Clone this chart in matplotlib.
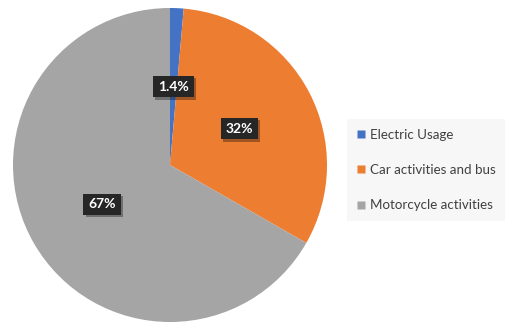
import matplotlib
matplotlib.use('Agg')
import matplotlib.pyplot as plt
from matplotlib.lines import Line2D
import matplotlib.patheffects as pe
import numpy as np

# ------------------------------------------------------ #
# Data
# ------------------------------------------------------ #
categories = ['Electric Usage', 'Car activities and bus', 'Motorcycle activities']
shares = [1.4, 32, 67]
share_labels = ['1.4%', '32%', '67%']
colors = ['#4472C4', '#ED7D31', '#A5A5A5']

plt.rcParams['font.family'] = ['Lato', 'DejaVu Sans']

fig = plt.figure(figsize=(5.06, 3.22), dpi=100)
ax = fig.add_axes([13 / 506, 0, 314 / 506, 314 / 322])

wedges, _ = ax.pie(shares, colors=colors, startangle=90, counterclock=False,
                   radius=1, wedgeprops=dict(linewidth=0))
ax.set_xlim(-1, 1)
ax.set_ylim(-1, 1)
ax.set_aspect('equal')

# data labels in dark boxes, like Excel
for w, lab in zip(wedges, share_labels):
    mid = np.deg2rad((w.theta1 + w.theta2) / 2)
    r = 0.5
    t = ax.text(r * np.cos(mid), r * np.sin(mid), lab, ha='center', va='center',
                color='white', fontsize=10, fontweight='bold',
                bbox=dict(boxstyle='square,pad=0.35', fc='#262626', ec='none'))
    t.get_bbox_patch().set_path_effects([pe.SimplePatchShadow(offset=(1.5, -1.5), alpha=0.35),
                                         pe.Normal()])

handles = [Line2D([], [], marker='s', ls='none', markersize=6, markerfacecolor=c,
                  markeredgecolor='none') for c in colors]
leg = fig.legend(handles, categories, loc='center left',
                 bbox_to_anchor=(347 / 506, 1 - 170 / 322),
                 frameon=True, fontsize=9.6, labelspacing=1.75,
                 handlelength=0.6, handletextpad=0.35, borderpad=0.75,
                 borderaxespad=0, labelcolor='#404040', fancybox=False)
leg.get_frame().set_facecolor('#F5F5F5')
leg.get_frame().set_edgecolor('none')

fig.savefig('out.png', dpi=100, facecolor='white')
